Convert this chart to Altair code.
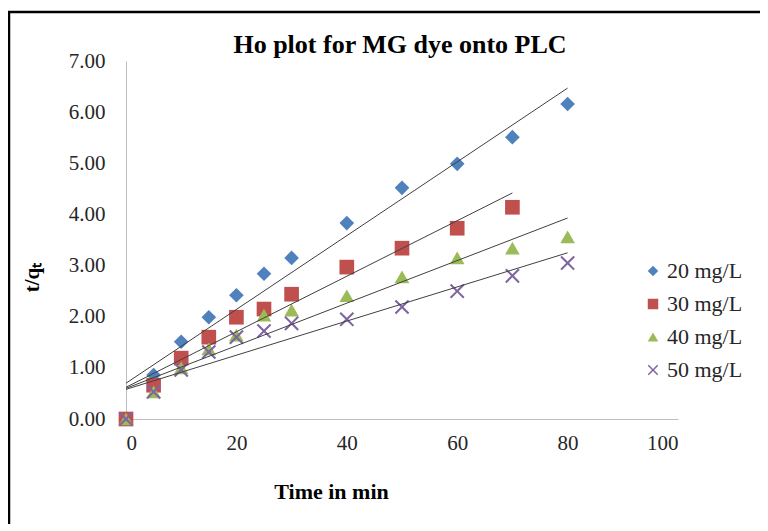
import altair as alt
import pandas as pd

# ---- data ----
time_min = [0, 5, 10, 15, 20, 25, 30, 40, 50, 60, 70, 80]
series_names = ["20 mg/L", "30 mg/L", "40 mg/L", "50 mg/L"]
tq_20 = [0.00, 0.86, 1.51, 1.99, 2.42, 2.84, 3.15, 3.83, 4.52, 4.99, 5.51, 6.16]
tq_30 = [0.00, 0.66, 1.19, 1.60, 1.99, 2.15, 2.44, 2.97, 3.34, 3.73, 4.14]
tq_40 = [0.00, 0.53, 1.00, 1.37, 1.64, 2.03, 2.13, 2.41, 2.78, 3.15, 3.34, 3.56]
tq_50 = [0.00, 0.53, 0.96, 1.31, 1.60, 1.72, 1.87, 1.95, 2.19, 2.50, 2.80, 3.05]

# linear trend lines (start / end)
trend_x_start = [0, 0, 0, 0]
trend_x_end = [80, 70, 80, 80]
trend_y_start = [0.70, 0.62, 0.60, 0.58]
trend_y_end = [6.47, 4.42, 3.93, 3.25]

x_ticks = [0, 20, 40, 60, 80, 100]
y_ticks = [0, 1, 2, 3, 4, 5, 6, 7]

colors = ["#4F81BD", "#C0504D", "#9BBB59", "#8064A2"]
x_path = "M-1,-0.8L-0.8,-1L0,-0.2L0.8,-1L1,-0.8L0.2,0L1,0.8L0.8,1L0,0.2L-0.8,1L-1,0.8L-0.2,0Z"
shapes = ["diamond", "square", "triangle-up", x_path]

# ---- build tables ----
rows = []
for name, vals in zip(series_names, [tq_20, tq_30, tq_40, tq_50]):
    for t, v in zip(time_min, vals):
        rows.append({"series": name, "time": t, "tq": v})
points_df = pd.DataFrame(rows)

trend_rows = []
for name, xs, xe, ys, ye in zip(series_names, trend_x_start, trend_x_end, trend_y_start, trend_y_end):
    trend_rows.append({"series": name, "time": xs, "tq": ys})
    trend_rows.append({"series": name, "time": xe, "tq": ye})
trend_df = pd.DataFrame(trend_rows)

FONT = "Liberation Serif"

x_enc = alt.X(
    "time:Q",
    scale=alt.Scale(domain=[0, 100], nice=False),
    axis=alt.Axis(
        values=x_ticks, grid=False, ticks=False, domainColor="#bfbfbf",
        labelFont=FONT, labelFontSize=21, labelColor="#262626", labelPadding=13,
        title="Time in min", titleFont=FONT, titleFontSize=22, titleFontWeight="bold",
        titleColor="black", titleX=205, titleY=72, titleBaseline="middle",
        titleAlign="center",
    ),
)
y_enc = alt.Y(
    "tq:Q",
    scale=alt.Scale(domain=[0, 7], nice=False),
    axis=alt.Axis(
        values=y_ticks, format=".2f", grid=False, ticks=False, domainColor="#bfbfbf",
        labelFont=FONT, labelFontSize=21, labelColor="#262626", labelPadding=21,
        title="t/qₜ", titleFont=FONT, titleFontSize=21, titleFontWeight="bold",
        titleColor="black", titleAngle=270, titleX=-94, titleY=216,
        titleAlign="center", titleBaseline="middle",
    ),
)

border = alt.Chart(alt.Data(values=[{}])).mark_rect(
    filled=False, stroke="black", strokeWidth=2.5
).encode(
    x=alt.value(-117), x2=alt.value(800), y=alt.value(-49), y2=alt.value(600)
)

title = alt.Chart(alt.Data(values=[{}])).mark_text(
    text="Ho plot for MG dye onto PLC", font=FONT, fontSize=26, fontWeight="bold",
    align="center", baseline="alphabetic", color="black"
).encode(x=alt.value(274), y=alt.value(-8))

legend_kw = dict(
    title=None, orient="none", legendX=516, legendY=199,
    labelFont=FONT, labelFontSize=22, labelColor="#262626",
    symbolSize=110, rowPadding=11, labelOffset=3, symbolStrokeWidth=0,
)

points = alt.Chart(points_df).mark_point(filled=True, size=215, opacity=1).encode(
    x=x_enc,
    y=y_enc,
    color=alt.Color(
        "series:N",
        scale=alt.Scale(domain=series_names, range=colors),
        legend=alt.Legend(**legend_kw),
    ),
    shape=alt.Shape(
        "series:N",
        scale=alt.Scale(domain=series_names, range=shapes),
        legend=alt.Legend(**legend_kw),
    ),
)

lines = alt.Chart(trend_df).mark_line(color="#404040", strokeWidth=1).encode(
    x="time:Q", y="tq:Q", detail="series:N"
)

chart = alt.layer(border, title, points, lines).properties(
    width=552,
    height=358,
    padding={"left": 118, "top": 53, "right": 82, "bottom": 105},
    autosize=alt.AutoSizeParams(type="none"),
    background="white",
).configure_view(stroke=None)

chart.save("out.html", embed_options={"renderer": "svg", "actions": False})
